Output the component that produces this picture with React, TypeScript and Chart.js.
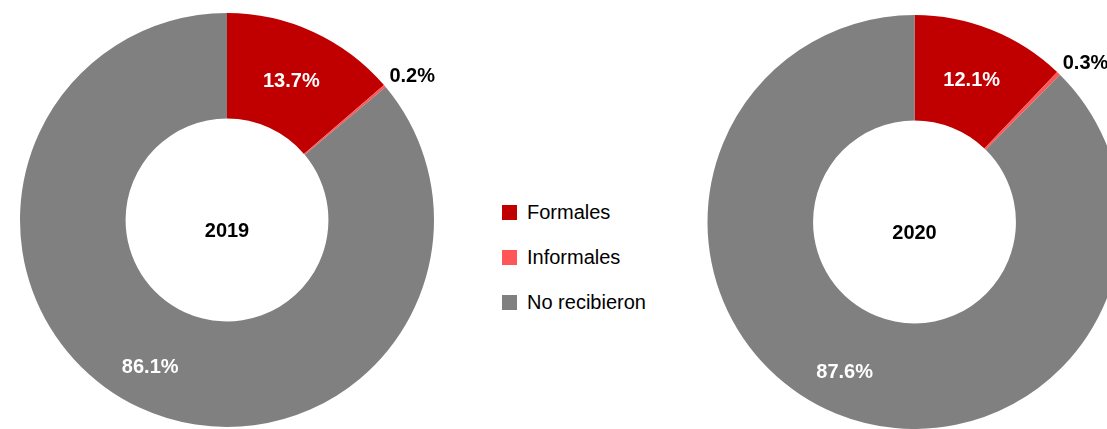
import React, { useEffect, useRef } from "react";
import { Chart, registerables } from "chart.js";

Chart.register(...registerables);

const categories = ["Formales", "Informales", "No recibieron"];
const colors = ["#C00000", "#FF5757", "#808080"];
const years = ["2019", "2020"];
const values2019 = [13.7, 0.2, 86.1];
const values2020 = [12.1, 0.3, 87.6];

const FONT = '"Liberation Sans", Arial, sans-serif';

const labelPlugin = {
  id: "sliceLabels",
  afterDatasetsDraw(chart: any, _args: any, opts: any) {
    const ctx = chart.ctx;
    const meta = chart.getDatasetMeta(0);
    const data = chart.data.datasets[0].data as number[];
    ctx.save();
    meta.data.forEach((arc: any, i: number) => {
      const p = arc.getProps(["x", "y", "startAngle", "endAngle", "innerRadius", "outerRadius"], true);
      let mid = (p.startAngle + p.endAngle) / 2;
      const txt = data[i].toFixed(1) + "%";
      ctx.font = "bold 20px " + FONT;
      if (data[i] >= 5) {
        let r = (p.innerRadius + p.outerRadius) / 2;
        if (i !== 0) {
          r += 10;
          mid += 0.05;
        }
        ctx.fillStyle = "#FFFFFF";
        ctx.textAlign = "center";
        ctx.textBaseline = "middle";
        ctx.fillText(txt, p.x + Math.cos(mid) * r, p.y + Math.sin(mid) * r + 2);
      } else {
        const r = p.outerRadius + 6;
        ctx.fillStyle = "#000000";
        ctx.textAlign = "left";
        ctx.textBaseline = "middle";
        ctx.fillText(txt, p.x + Math.cos(mid) * r, p.y + Math.sin(mid) * r - 6);
      }
    });
    const first = meta.data[0] as any;
    if (first) {
      ctx.fillStyle = "#000000";
      ctx.textAlign = "center";
      ctx.textBaseline = "middle";
      ctx.font = "bold 20px " + FONT;
      ctx.fillText(opts.title, first.x, first.y + 11);
    }
    ctx.restore();
  },
};

function Donut(props: { values: number[]; title: string; padding: any; width: number; left: number }) {
  const ref = useRef<HTMLCanvasElement | null>(null);
  useEffect(() => {
    if (!ref.current) return;
    const chart = new Chart(ref.current, {
      type: "doughnut",
      data: {
        labels: categories,
        datasets: [
          {
            data: props.values,
            backgroundColor: colors,
            borderWidth: 0,
            hoverOffset: 0,
          },
        ],
      },
      options: {
        responsive: false,
        animation: false,
        devicePixelRatio: 1,
        cutout: "49%",
        layout: { padding: props.padding },
        plugins: {
          legend: { display: false },
          tooltip: { enabled: false },
          sliceLabels: { title: props.title },
        } as any,
      },
      plugins: [labelPlugin],
    });
    return () => chart.destroy();
  }, []);
  return (
    <canvas
      ref={ref}
      width={props.width}
      height={429}
      style={{ position: "absolute", left: props.left, top: 0, width: props.width, height: 429 }}
    />
  );
}

export default function App() {
  useEffect(() => {
    document.body.style.margin = "0";
  }, []);
  return (
    <div
      style={{
        position: "relative",
        width: 1107,
        height: 429,
        overflow: "hidden",
        background: "#FFFFFF",
        fontFamily: FONT,
      }}
    >
      <Donut values={values2019} title={years[0]} width={480} left={0} padding={{ left: 20, top: 13, right: 46, bottom: 2 }} />
      <Donut values={values2020} title={years[1]} width={460} left={680} padding={{ left: 27.5, top: 15, right: 18.5, bottom: 0 }} />
      {categories.map((c, i) => (
        <div key={c} style={{ position: "absolute", left: 502, top: 212 + i * 45 - 12, height: 24, display: "flex", alignItems: "center" }}>
          <div style={{ width: 15, height: 15, background: colors[i], marginRight: 10 }} />
          <span style={{ fontSize: 20, color: "#000000", lineHeight: "24px" }}>{c}</span>
        </div>
      ))}
    </div>
  );
}
